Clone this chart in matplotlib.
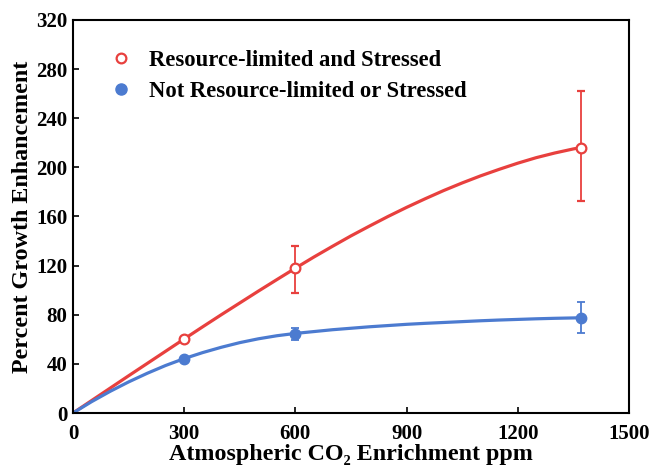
import matplotlib
matplotlib.use("Agg")
import matplotlib.pyplot as plt
from matplotlib.lines import Line2D

# puntos medidos (ppm, % de aumento) y barras de error
x_pts = [300, 600, 1370]
rojo_y = [60, 118, 216]
rojo_err_inf = [0, 20, 43]
rojo_err_sup = [0, 18, 46]
azul_y = [44, 64.5, 77]
azul_err_inf = [0, 5, 12]
azul_err_sup = [0, 5, 13]

curva_x = [0, 50, 100, 150, 200, 250, 300, 350, 400, 450, 500, 550, 600, 650, 700,
           750, 800, 850, 900, 950, 1000, 1050, 1100, 1150, 1200, 1250, 1300, 1350, 1370]
curva_rojo = [0, 10.1, 20.2, 30.3, 40.3, 50.3, 60.3, 70.2, 80.0, 89.6, 99.2, 108.6, 117.9,
              127.0, 135.7, 144.2, 152.2, 160.0, 167.4, 174.4, 181.1, 187.3, 193.1, 198.4,
              203.4, 207.9, 211.7, 215.0, 216.1]
curva_azul = [0, 9.2, 17.6, 25.3, 32.3, 38.7, 44.3, 49.2, 53.5, 57.3, 60.4, 62.9, 64.8,
              66.3, 67.8, 69.0, 70.2, 71.2, 72.2, 73.0, 73.7, 74.4, 75.1, 75.7, 76.2,
              76.7, 77.1, 77.4, 77.6]

x_ticks = [0, 300, 600, 900, 1200, 1500]
y_ticks = [0, 40, 80, 120, 160, 200, 240, 280, 320]

ROJO = "#e8403e"
AZUL = "#4c7bd0"

plt.rcParams["font.family"] = ["Liberation Serif", "DejaVu Serif"]
plt.rcParams["font.weight"] = "bold"

fig = plt.figure(figsize=(6.49, 4.69), dpi=100)
ax = fig.add_axes([0.1125, 0.1194, 0.8565, 0.8380])

ax.plot(curva_x, curva_rojo, color=ROJO, lw=2.3, solid_capstyle="round", zorder=2)
ax.plot(curva_x, curva_azul, color=AZUL, lw=2.3, solid_capstyle="round", zorder=2)

ax.errorbar(x_pts, rojo_y, yerr=[rojo_err_inf, rojo_err_sup], fmt="o", color=ROJO,
            mfc="white", mec=ROJO, mew=1.6, ms=7, elinewidth=1.3, capsize=3,
            capthick=1.3, zorder=3)
ax.errorbar(x_pts, azul_y, yerr=[azul_err_inf, azul_err_sup], fmt="o", color=AZUL,
            mfc=AZUL, mec=AZUL, ms=7.5, elinewidth=1.3, capsize=3,
            capthick=1.3, zorder=3)

ax.set_xlim(0, 1500)
ax.set_ylim(0, 320)
ax.set_xticks(x_ticks)
ax.set_yticks(y_ticks)
ax.tick_params(direction="in", length=4, width=1.2, labelsize=15)
ax.tick_params(axis="x", pad=8)
ax.tick_params(axis="y", pad=4)
for s in ax.spines.values():
    s.set_linewidth(1.5)

ax.set_xlabel("Atmospheric CO₂ Enrichment ppm", fontsize=17.3, fontweight="bold", labelpad=0)
ax.set_ylabel("Percent Growth Enhancement", fontsize=17.3, fontweight="bold", labelpad=2)

marcas = [
    Line2D([], [], ls="none", marker="o", ms=7, mfc="white", mec=ROJO, mew=1.6),
    Line2D([], [], ls="none", marker="o", ms=8, mfc=AZUL, mec=AZUL),
]
ax.legend(marcas, ["Resource-limited and Stressed", "Not Resource-limited or Stressed"],
          loc="upper left", bbox_to_anchor=(0.030, 0.975), frameon=False,
          fontsize=16.3, handletextpad=0.72, labelspacing=0.45, handlelength=1.0)

fig.savefig("out.png", dpi=100)
